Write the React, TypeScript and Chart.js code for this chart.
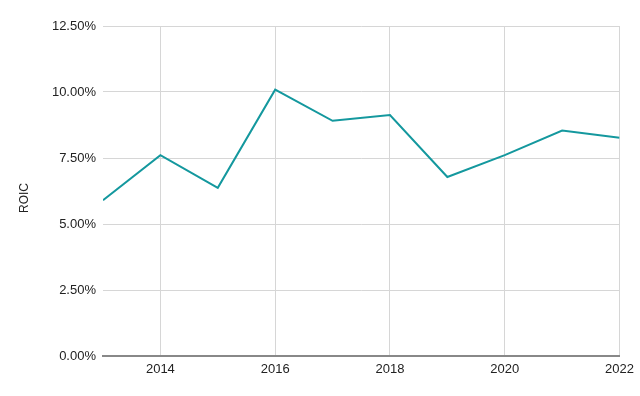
import React, { useEffect, useRef } from "react";
import { Chart, registerables } from "chart.js";

Chart.register(...registerables);

const years = [2013, 2014, 2015, 2016, 2017, 2018, 2019, 2020, 2021, 2022];
const roic = [5.9, 7.61, 6.37, 10.09, 8.91, 9.13, 6.78, 7.61, 8.54, 8.27];
const xTickYears = [2014, 2016, 2018, 2020, 2022];
const yTicks = [0, 2.5, 5, 7.5, 10, 12.5];
const yTitle = "ROIC";

const FONT = "'Liberation Sans', Arial, sans-serif";

const titlePlugin = {
  id: "sideTitle",
  afterDraw(chart: any) {
    const ctx = chart.ctx;
    ctx.save();
    ctx.translate(25, 198);
    ctx.rotate(-Math.PI / 2);
    ctx.font = `12px ${FONT}`;
    ctx.fillStyle = "#222222";
    ctx.textAlign = "center";
    ctx.textBaseline = "middle";
    ctx.fillText(yTitle, 0, 0);
    ctx.restore();
  },
};

export default function App() {
  const ref = useRef<HTMLCanvasElement>(null);
  useEffect(() => {
    document.body.style.margin = "0";
    const chart = new Chart(ref.current!, {
      type: "line",
      data: {
        datasets: [
          {
            data: years.map((y, i) => ({ x: y, y: roic[i] })),
            borderColor: "#14989E",
            borderWidth: 2,
            pointRadius: 0,
            tension: 0,
            fill: false,
          },
        ],
      },
      options: {
        animation: false,
        responsive: false,
        maintainAspectRatio: false,
        layout: { padding: { top: 26, right: 20, left: 0, bottom: 0 } },
        plugins: { legend: { display: false }, tooltip: { enabled: false } },
        scales: {
          x: {
            type: "linear",
            min: 2013,
            max: 2022,
            afterBuildTicks: (s: any) => {
              s.ticks = xTickYears.map((v) => ({ value: v }));
            },
            afterFit: (s: any) => {
              s.height = 40;
            },
            grid: { color: "#d6d6d6", drawTicks: false, lineWidth: 1 },
            border: { display: true, color: "#888888", width: 2 },
            ticks: {
              padding: 6,
              color: "#222222",
              font: { family: FONT, size: 13 },
              maxRotation: 0,
              callback: (v: any) => String(v),
            },
          },
          y: {
            min: 0,
            max: 12.5,
            afterBuildTicks: (s: any) => {
              s.ticks = yTicks.map((v) => ({ value: v }));
            },
            afterFit: (s: any) => {
              s.width = 103;
            },
            grid: { color: "#d6d6d6", drawTicks: false, lineWidth: 1 },
            border: { display: false },
            ticks: {
              padding: 7,
              color: "#222222",
              font: { family: FONT, size: 13 },
              callback: (v: any) => Number(v).toFixed(2) + "%",
            },
          },
        },
      },
      plugins: [titlePlugin],
    });
    return () => chart.destroy();
  }, []);
  return (
    <div style={{ width: 640, height: 396, background: "#fff" }}>
      <canvas ref={ref} width={640} height={396} style={{ display: "block" }} />
    </div>
  );
}
